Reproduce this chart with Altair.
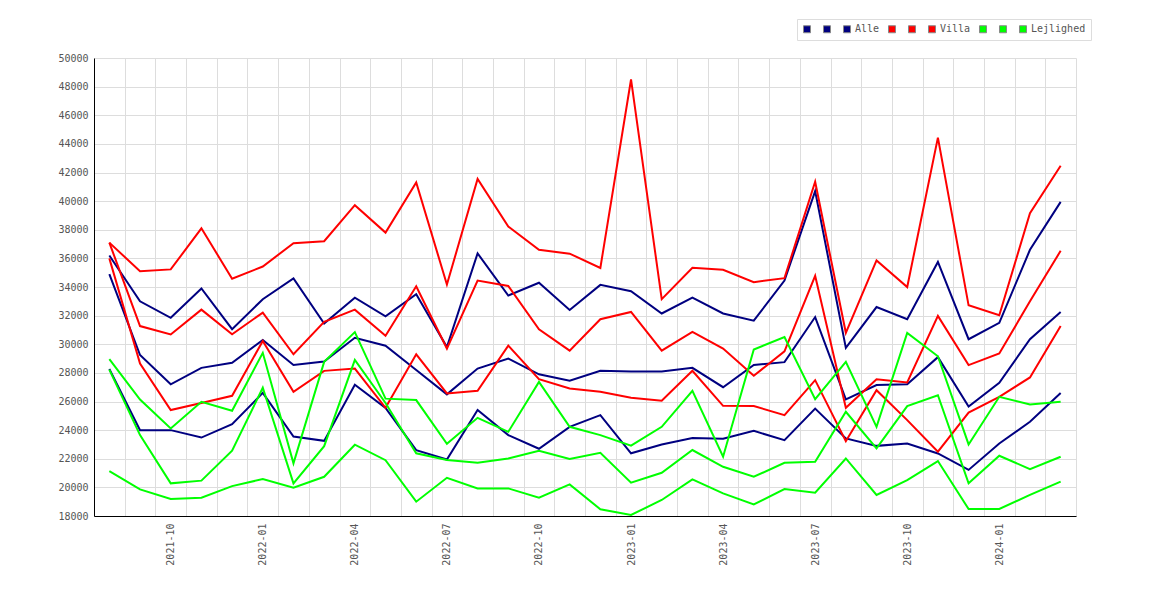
import altair as alt
import pandas as pd

months = [str(p) for p in pd.period_range("2021-08", "2024-03", freq="M")]
quarter_labels = ["2021-10", "2022-01", "2022-04", "2022-07", "2022-10", "2023-01",
                  "2023-04", "2023-07", "2023-10", "2024-01"]

alle_1 = [36200, 33000, 31850, 33900, 31050, 33150, 34600, 31450, 33250, 31950, 33500,
          29800, 36350, 33400, 34300, 32400, 34150, 33700, 32150, 33250, 32150, 31650,
          34450, 40700, 29750, 32600, 31750, 35750, 30350, 31500, 36600, 39950]
alle_2 = [34900, 29250, 27200, 28350, 28700, 30300, 28550, 28800, 30450, 29900, 28200,
          26500, 28300, 29000, 27900, 27450, 28150, 28100, 28100, 28350, 27000, 28550,
          28750, 31900, 26150, 27150, 27200, 29100, 25650, 27300, 30350, 32250]
alle_3 = [28270, 24000, 24000, 23480, 24420, 26600, 23550, 23250, 27170, 25550, 22600,
          21950, 25400, 23650, 22700, 24230, 25050, 22380, 23000, 23450, 23400, 23950,
          23300, 25500, 23420, 22900, 23070, 22370, 21220, 23070, 24580, 26600]

villa_1 = [37100, 35100, 35230, 38100, 34580, 35430, 37060, 37200, 39720, 37800, 41300,
           34170, 41550, 38230, 36600, 36330, 35330, 48500, 33150, 35350, 35200, 34340,
           34620, 41350, 30800, 35860, 34000, 44440, 32720, 32030, 39150, 42470]
villa_2 = [37100, 31270, 30680, 32420, 30700, 32210, 29300, 31560, 32420, 30600, 34050,
           29700, 34450, 34070, 31050, 29550, 31750, 32260, 29550, 30870, 29700, 27800,
           29500, 34780, 25560, 27560, 27330, 31980, 28540, 29350, 33000, 36530]
villa_3 = [36000, 28650, 25400, 25900, 26400, 30230, 26680, 28140, 28300, 25560, 29300,
           26560, 26750, 29900, 27560, 26910, 26680, 26260, 26050, 28150, 25700, 25680,
           25050, 27490, 23230, 26790, 24700, 22490, 25230, 26330, 27680, 31280]

lejl_1 = [28960, 26140, 24120, 25980, 25350, 29400, 21680, 28770, 30850, 26200, 26100,
          23050, 24860, 23880, 27370, 24230, 23650, 22910, 24230, 26750, 22140, 29630,
          30510, 26160, 28770, 24230, 30790, 29160, 23000, 26330, 25790, 25980]
lejl_2 = [28230, 23650, 20280, 20470, 22560, 26960, 20280, 22880, 28900, 25900, 22380,
          21920, 21720, 22020, 22560, 21980, 22420, 20330, 21020, 22610, 21440, 20740,
          21720, 21790, 25280, 22720, 25680, 26440, 20280, 22210, 21280, 22140]
lejl_3 = [21140, 19860, 19190, 19280, 20090, 20580, 19980, 20740, 22980, 21900, 19000,
          20670, 19930, 19930, 19280, 20210, 18470, 18070, 19120, 20560, 19580, 18810,
          19880, 19630, 22020, 19470, 20510, 21840, 18490, 18490, 19470, 20400]

series_names = ["Alle_1", "Alle_2", "Alle", "Villa_1", "Villa_2", "Villa",
                "Lejlighed_1", "Lejlighed_2", "Lejlighed"]
series_values = [alle_1, alle_2, alle_3, villa_1, villa_2, villa_3, lejl_1, lejl_2, lejl_3]
series_colors = ["#000080"] * 3 + ["#ff0000"] * 3 + ["#00ff00"] * 3

rows = []
for name, vals in zip(series_names, series_values):
    for m, v in zip(months, vals):
        rows.append({"month": m, "series": name, "value": v})
df = pd.DataFrame(rows)

FONT = "DejaVu Sans Mono"
GRAY = "#555555"
GRID = "#dddddd"

label_expr = "indexof(" + str(quarter_labels) + ", datum.label) >= 0 ? datum.label : ''"

x_enc = alt.X("month:O", sort=months,
              scale=alt.Scale(type="band", paddingInner=0, paddingOuter=0),
              axis=alt.Axis(title=None, tickBand="extent", grid=True, gridColor=GRID,
                            ticks=False, tickSize=0, labelAngle=270, labelPadding=7,
                            labelExpr=label_expr, labelFont=FONT, labelFontSize=10,
                            labelColor=GRAY, domainColor="#000000", labelOverlap=False))
y_enc = alt.Y("value:Q",
              scale=alt.Scale(domain=[18000, 50000], nice=False, zero=False),
              axis=alt.Axis(title=None, values=list(range(18000, 50001, 2000)), format="d",
                            ticks=False, tickSize=0, labelPadding=6, grid=True, gridColor=GRID,
                            labelFont=FONT, labelFontSize=10, labelColor=GRAY,
                            domainColor="#000000"))
color_scale = alt.Scale(domain=series_names, range=series_colors)

lines = alt.Chart(df).mark_line(strokeWidth=2).encode(
    x=x_enc, y=y_enc,
    color=alt.Color("series:N", sort=series_names, scale=color_scale, legend=None),
)

legend_pts = alt.Chart(df).mark_point(shape="square", filled=True, size=0, opacity=1).encode(
    x=x_enc, y=y_enc,
    color=alt.Color("series:N", sort=series_names, scale=color_scale,
                    legend=alt.Legend(title=None, orient="none", legendX=703, legendY=-39,
                                      direction="horizontal", symbolType="square",
                                      symbolSize=49, labelFont=FONT, labelFontSize=10,
                                      labelColor=GRAY, labelOffset=3, columnPadding=6,
                                      padding=5, strokeColor=GRID, fillColor="#ffffff",
                                      symbolStrokeColor="#888888", symbolStrokeWidth=1,
                                      labelExpr="indexof(datum.label, '_') >= 0 ? ' ' : datum.label")),
)

chart = alt.layer(lines, legend_pts).resolve_legend(color="independent").properties(
    width=982, height=458,
    padding={"left": 86, "top": 50, "right": 40, "bottom": 70},
    autosize=alt.AutoSizeParams(type="none"),
).configure_view(stroke=None)

chart.save("out.html", embed_options={"renderer": "svg", "actions": False})
